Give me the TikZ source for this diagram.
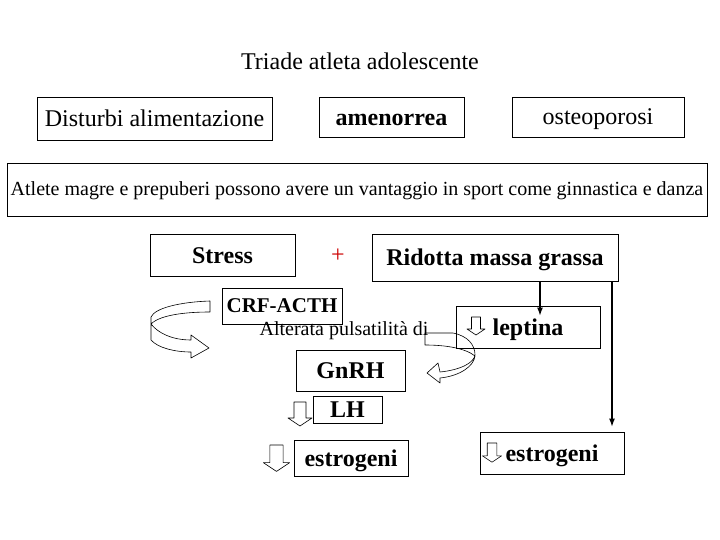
\documentclass[tikz,border=0pt]{standalone}
\usepackage{fontspec}
\setmainfont{Liberation Serif}
\usetikzlibrary{arrows.meta}
\definecolor{plusred}{RGB}{204,0,0}
\tikzset{
  big/.style={font=\fontsize{24}{28}\selectfont},
  small/.style={font=\fontsize{20}{24}\selectfont},
  box/.style={draw,line width=.8pt,inner sep=0pt,text height=21pt,text depth=5pt,big},
  boxb/.style={box,font=\fontsize{24}{28}\selectfont\bfseries},
  blockarr/.style={draw,line width=.6pt,line join=round},
  pics/downarr/.style={code={
    \draw[blockarr] (-6,0) -- (6,0) -- (6,16) -- (12,16) -- (0,24)
      -- (-12,16) -- (-6,16) -- cycle;}}
}
\begin{document}
\begin{tikzpicture}[x=1pt,y=-1pt]
  \useasboundingbox (0,0) rectangle (720,540);
  \node[big] (title) at (360,61) {Triade atleta adolescente};
  \node[box,minimum width=235pt,minimum height=43pt] (dist) at (154.5,118.5) {Disturbi alimentazione};
  \node[boxb,minimum width=145pt,minimum height=40pt] (amen) at (391.5,117.5) {amenorrea};
  \node[box,minimum width=172pt,minimum height=40pt] (osteo) at (598,117) {osteoporosi};
  \node[box,small,text height=17pt,text depth=4pt,minimum width=700pt,minimum height=53pt] (atlete) at (357,189.5)
    {Atlete magre e prepuberi possono avere un vantaggio in sport come ginnastica e danza};
  % catena dello stress
  \node[boxb,minimum width=145pt,minimum height=42pt] (stress) at (222.5,255) {Stress};
  \node[big,text=plusred] (plus) at (338,256) {+};
  \node[boxb,minimum width=246pt,minimum height=47pt] (ridotta) at (495,257.5) {Ridotta massa grassa};
  \node[boxb,font=\fontsize{21}{25}\selectfont\bfseries,text height=18pt,minimum width=120pt,minimum height=36pt] (crf) at (282,306) {CRF-ACTH};
  \node[small] (alterata) at (344,331) {Alterata pulsatilità di};
  \node[boxb,minimum width=144pt,minimum height=42pt] (leptina) at (528,327) {leptina};
  \node[boxb,minimum width=109pt,minimum height=41pt] (gnrh) at (350.5,370.5) {GnRH};
  \node[boxb,minimum width=69pt,minimum height=27pt] (lh) at (347.5,409.5) {LH};
  \node[boxb,minimum width=114pt,minimum height=36pt] (estrL) at (351,458) {estrogeni};
  \node[boxb,minimum width=144pt,minimum height=42pt] (estrR) at (552,453) {estrogeni};
  % frecce giu
  \pic at (300,402) {downarr};
  \pic[scale=1.1] at (276.5,445) {downarr};
  \pic[scale=.75] at (476,317) {downarr};
  \pic[scale=.8] at (492,443) {downarr};
  % frecce curve
  \draw[blockarr] (151,324) .. controls (160,315) and (185,312) .. (210,312) -- (210,301)
    .. controls (180,302) and (155,308) .. (151,317) -- (151,340)
    .. controls (158,348) and (175,352) .. (191,352) -- (191,358) -- (209,348)
    -- (191,335) -- (191,340) .. controls (172,340) and (158,333) .. (151,324) -- cycle;
  \draw[blockarr] (425,333) -- (453,333) .. controls (468,336) and (475,345) .. (475,355)
    .. controls (474,363) and (460,370) .. (440,372) -- (438,363) -- (427,373)
    -- (440,383) -- (440,378) .. controls (460,376) and (474,366) .. (475,356)
    .. controls (465,348) and (445,345) .. (425,345) -- cycle;
  % dalla massa grassa
  \coordinate (gx) at (540,0);
  \coordinate (gy) at (612,0);
  \draw[line width=1.2pt,-{Latex[length=8pt,width=6pt]}] (ridotta.south -| gx) -- ([yshift=-10pt]leptina.north -| gx);
  \draw[line width=1.2pt,-{Latex[length=8pt,width=6pt]}] (ridotta.south -| gy) -- ([yshift=5pt]estrR.north -| gy);
\end{tikzpicture}
\end{document}
